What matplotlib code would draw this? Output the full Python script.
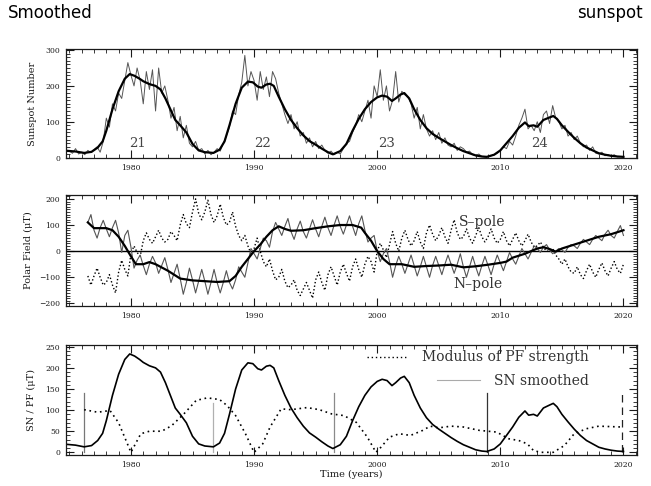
import numpy as np
import matplotlib.pyplot as plt
from matplotlib.ticker import MultipleLocator
from matplotlib.lines import Line2D

# HEADER TEXT
header_left = "Smoothed"
header_right = "sunspot"

# PANEL 1 - monthly-ish sunspot number (quarterly samples, 1974.75 .. 2020.0)
sn_raw_t0 = 1974.75
sn_raw = [20,
          18, 12, 25, 10,   15, 8, 20, 14,    22, 30, 15, 45,    110, 85, 150, 130,
          180, 165, 215, 265, 230, 200, 250, 215, 150, 240, 190, 245, 130, 250, 180, 200,
          160, 110, 140, 75,  115, 55, 90, 40,  30, 45, 20, 25,    10, 20, 8, 15,
          25, 18, 40, 60,     85, 130, 120, 175, 210, 285, 200, 240, 215, 160, 240, 190,
          225, 170, 240, 220, 180, 150, 120, 95, 120, 80, 100, 60,  70, 40, 55, 30,
          45, 25, 35, 20,     12, 18, 8, 15,    10, 25, 40, 45,    70, 90, 120, 100,
          130, 160, 110, 200, 170, 245, 160, 200, 130, 160, 240, 155, 185, 175, 170, 150,
          110, 140, 80, 120,  80, 60, 75, 50,   70, 40, 55, 35,    30, 40, 20, 30,
          25, 15, 18, 8,      5, 10, 3, 2,      2, 5, 8, 12,       20, 30, 25, 45,
          35, 60, 90, 110,    135, 80, 90, 75,  100, 70, 120, 130, 95, 145, 110, 100,
          80, 90, 60, 70,     50, 60, 40, 30,   35, 20, 30, 12,    10, 15, 5, 8,
          4, 8, 2, 3,         2]

# smoothed sunspot number (panel 1 thick line and panel 3 solid line)
sn_smooth_t = [1974.75, 1975.5, 1976.2, 1976.8, 1977.3, 1977.7, 1978.0, 1978.5, 1979.0,
               1979.5, 1979.9, 1980.3, 1980.7, 1981.0, 1981.5, 1982.0, 1982.4, 1982.8,
               1983.2, 1983.6, 1984.0, 1984.5, 1985.0, 1985.5, 1986.0, 1986.7, 1987.2,
               1987.6, 1988.0, 1988.5, 1989.0, 1989.5, 1989.9, 1990.3, 1990.6, 1991.0,
               1991.3, 1991.6, 1992.0, 1992.5, 1993.0, 1993.5, 1994.0, 1994.5, 1995.0,
               1995.5, 1996.0, 1996.4, 1997.0, 1997.5, 1998.0, 1998.5, 1999.0, 1999.5,
               2000.0, 2000.4, 2000.8, 2001.2, 2001.5, 2001.9, 2002.2, 2002.6, 2003.0,
               2003.5, 2004.0, 2004.5, 2005.0, 2005.5, 2006.0, 2006.5, 2007.0, 2007.5,
               2008.0, 2008.5, 2008.9, 2009.5, 2010.0, 2010.5, 2011.0, 2011.5, 2012.0,
               2012.3, 2012.7, 2013.0, 2013.5, 2014.0, 2014.3, 2014.6, 2015.0, 2015.5,
               2016.0, 2016.5, 2017.0, 2017.5, 2018.0, 2018.5, 2019.0, 2019.5, 2020.0]
sn_smooth = [19, 17, 13, 16, 28, 45, 75, 135, 185,
             220, 233, 228, 220, 213, 205, 200, 190, 165,
             135, 105, 90, 70, 38, 20, 15, 13, 22,
             45, 90, 150, 195, 212, 210, 198, 195, 204,
             206, 200, 170, 135, 105, 82, 62, 46, 36,
             25, 15, 9, 18, 38, 75, 108, 135, 155,
             168, 173, 170, 158, 165, 176, 180, 165, 135,
             105, 82, 66, 55, 45, 35, 26, 18, 12,
             6, 3, 2, 8, 20, 40, 60, 83, 98,
             88, 90, 86, 105, 112, 116, 108, 90, 72,
             55, 40, 28, 20, 12, 8, 5, 3, 2]
cycle_labels = ["21", "22", "23", "24"]
cycle_x = [1980.5, 1990.7, 2000.8, 2013.2]
cycle_y = [38, 38, 38, 38]

# PANEL 2 - polar fields (quarterly samples, 1976.5 .. 2020.0)
pf_t0 = 1976.5
n_raw = [110, 140,
         80, 50, 90, 118,      85, 55, 90, 118,      70, -5, 60, 80,
         15, -65, -35, -15,    -55, -90, -50, -20,   -45, -85, -55, -25,
         -70, -120, -85, -50,  -105, -165, -120, -65, -110, -160, -115, -70,
         -115, -165, -120, -70, -120, -160, -120, -75, -120, -145, -110, -60,
         -80, -100, -45, 10,   -10, -30, 10, 50,     40, 15, 75, 110,
         85, 60, 95, 125,      75, 45, 85, 115,      75, 50, 85, 120,
         85, 55, 95, 130,      90, 60, 100, 135,     95, 65, 100, 135,
         95, 60, 105, 135,     80, 35, 50, 60,       0, -40, -10, 10,
         -40, -100, -55, -20,  -50, -85, -50, -15,   -55, -95, -60, -20,
         -60, -100, -55, -20,  -55, -90, -50, -15,   -50, -85, -50, -10,
         -60, -100, -60, -20,  -60, -95, -55, -20,   -55, -90, -50, -15,
         -45, -75, -40, -5,    -30, -50, -20, 10,    -10, -30, -5, 20,
         10, -5, 15, 25,       5, -10, 0, 10,        5, -5, 15, 25,
         20, 10, 30, 45,       35, 25, 45, 60,       50, 40, 65, 80,
         60, 50, 75, 98,       60]
s_raw = [-95, -130,
         -95, -65, -100, -130,  -120, -90, -130, -160, -80, -35, -70, -95,
         -10, 20, -5, -20,      40, 70, 45, 30,       55, 80, 50, 35,
         45, 75, 60, 40,        100, 140, 105, 90,    150, 200, 145, 120,
         150, 195, 140, 110,    135, 180, 130, 100,   110, 150, 95, 60,
         40, 60, 20, -10,       10, 50, 0, -40,       -60, -30, -75, -110,
         -100, -70, -115, -140, -130, -110, -150, -170, -145, -120, -150, -180,
         -110, -80, -120, -150, -90, -60, -95, -130,  -80, -50, -85, -115,
         -60, -30, -70, -100,   -50, -20, -40, -80,   0, 30, 5, -25,
         25, 75, 30, 0,         50, 80, 45, 20,       40, 75, 35, 10,
         70, 100, 65, 40,       60, 90, 55, 30,       80, 120, 70, 45,
         55, 85, 50, 30,        60, 90, 55, 35,       55, 85, 50, 30,
         45, 75, 40, 20,        45, 70, 40, 20,       40, 65, 35, 15,
         20, 35, 15, 0,         0, 10, -15, -30,      -50, -30, -60, -80,
         -85, -60, -90, -105,   -75, -50, -80, -100,  -70, -45, -75, -95,
         -65, -40, -70, -85,    -50]
n_smooth_t = [1976.5, 1977.0, 1978.0, 1978.5, 1979.0, 1979.5, 1980.0, 1980.4, 1981.0,
              1981.5, 1982.0, 1983.0, 1984.0, 1985.0, 1986.0, 1987.0, 1988.0, 1988.5,
              1989.0, 1989.5, 1990.0, 1990.5, 1991.0, 1991.5, 1992.0, 1992.5, 1993.0,
              1994.0, 1995.0, 1996.0, 1997.0, 1998.0, 1998.7, 1999.0, 1999.5, 2000.0,
              2000.5, 2001.0, 2001.5, 2002.0, 2003.0, 2004.0, 2005.0, 2006.0, 2007.0,
              2008.0, 2009.0, 2010.0, 2010.5, 2011.0, 2012.0, 2013.0, 2013.5, 2014.0,
              2014.5, 2015.0, 2016.0, 2017.0, 2018.0, 2019.0, 2020.0]
n_smooth = [110, 88, 88, 80, 55, 20, -20, -50, -50,
            -42, -50, -75, -105, -112, -115, -118, -115, -95,
            -60, -30, 0, 25, 55, 80, 95, 85, 78,
            80, 88, 95, 100, 100, 90, 70, 40, 0,
            -30, -50, -50, -50, -60, -57, -55, -52, -62,
            -58, -52, -45, -40, -25, -10, 10, 15, 8,
            -2, 10, 25, 40, 55, 65, 80]

# PANEL 3 - modulus of polar field strength
pf_mod_t = [1976.2, 1977.3, 1978.3, 1979.0, 1979.5, 1980.0, 1980.8, 1981.5, 1982.5,
            1983.3, 1984.3, 1985.3, 1986.2, 1987.2, 1987.8, 1988.5, 1989.3, 1990.0,
            1990.7, 1991.3, 1992.2, 1993.0, 1994.3, 1995.3, 1996.3, 1997.3, 1998.3,
            1999.2, 1999.9, 2000.3, 2001.0, 2001.8, 2002.7, 2003.7, 2004.3, 2005.0,
            2006.0, 2007.0, 2008.3, 2009.7, 2010.7, 2011.5, 2012.2, 2012.7, 2013.3,
            2014.3, 2015.2, 2016.0, 2017.0, 2018.0, 2019.8]
pf_mod = [101, 95, 99, 70, 35, 0, 44, 50, 50,
          63, 91, 123, 129, 125, 111, 87, 44, 0,
          20, 60, 103, 101, 106, 101, 91, 87, 71,
          36, 0, 12, 36, 44, 40, 52, 62, 58,
          62, 60, 52, 48, 32, 28, 20, 4, 0,
          0, 16, 44, 56, 62, 60]
minima_t = [1976.2, 1986.7, 1996.5, 2008.9, 2019.9]
minima_h = [140, 118, 140, 140, 140]
minima_color = ["#777777", "#b0b0b0", "#8a8a8a", "#333333", "#222222"]
minima_style = ["-", "-", "-", "-", (0, (6, 4))]

XLIM = (1974.7, 2021.1)
SERIF = "DejaVu Serif"
INK = "#1a1a1a"
LABEL_INK = "#333333"

plt.rcParams["font.family"] = SERIF


def style_axis(ax, ylim, yminor):
    ax.set_xlim(*XLIM)
    ax.set_ylim(*ylim)
    ax.xaxis.set_major_locator(MultipleLocator(10))
    ax.xaxis.set_minor_locator(MultipleLocator(1))
    ax.yaxis.set_minor_locator(MultipleLocator(yminor))
    ax.tick_params(which="both", direction="in", top=True, right=True,
                   labelsize=5.5, colors=INK, pad=4)
    ax.tick_params(which="major", length=6, width=0.8)
    ax.tick_params(which="minor", length=3, width=0.6)
    for s in ax.spines.values():
        s.set_linewidth(0.9)
        s.set_color(INK)


fig = plt.figure(figsize=(6.51, 4.86), dpi=100)

fig.text(8 / 651, 1 - 4 / 486, header_left, ha="left", va="top",
         fontsize=12, family="DejaVu Sans", color="black")
fig.text(643 / 651, 1 - 4 / 486, header_right, ha="right", va="top",
         fontsize=12, family="DejaVu Sans", color="black")

# PANEL 1
ax1 = fig.add_axes([0.1009, 0.6743, 0.8776, 0.2249])
t_raw = sn_raw_t0 + 0.25 * np.arange(len(sn_raw))
ax1.plot(t_raw, sn_raw, color="#555555", lw=0.7)
ax1.plot(sn_smooth_t, sn_smooth, color="black", lw=1.6)
for lab, x, y in zip(cycle_labels, cycle_x, cycle_y):
    ax1.text(x, y, lab, ha="center", va="center", fontsize=9.5, color="#444444")
style_axis(ax1, (-2, 303), 10)
ax1.set_yticks([0, 100, 200, 300])
ax1.set_ylabel("Sunspot Number", fontsize=7, color=INK)
ax1.yaxis.set_label_coords(-0.051, 0.5)

# PANEL 2
ax2 = fig.add_axes([0.1009, 0.3704, 0.8776, 0.2284])
t_pf = pf_t0 + 0.25 * np.arange(len(n_raw))
ax2.axhline(0, color="black", lw=1.0)
ax2.plot(t_pf, s_raw, color="black", lw=1.0, ls=(0, (1, 1.6)))
ax2.plot(t_pf, n_raw, color="#555555", lw=0.8)
ax2.plot(n_smooth_t, n_smooth, color="black", lw=1.6)
ax2.text(2008.5, 110, "S\u2013pole", ha="center", va="center", fontsize=10, color=LABEL_INK)
ax2.text(2008.2, -126, "N\u2013pole", ha="center", va="center", fontsize=10, color=LABEL_INK)
style_axis(ax2, (-210, 215), 10)
ax2.set_yticks([-200, -100, 0, 100, 200])
ax2.set_ylabel("Polar Field (\u03bcT)", fontsize=7, color=INK)
ax2.yaxis.set_label_coords(-0.058, 0.5)

# PANEL 3
ax3 = fig.add_axes([0.1009, 0.0632, 0.8776, 0.2276])
for x, h, c, ls in zip(minima_t, minima_h, minima_color, minima_style):
    ax3.plot([x, x], [0, h], color=c, lw=0.9, ls=ls)
ax3.plot(sn_smooth_t, sn_smooth, color="black", lw=1.2)
ax3.plot(pf_mod_t, pf_mod, color="black", lw=1.2, ls=(0, (1, 2.2)))
style_axis(ax3, (-7, 255), 10)
ax3.set_yticks([0, 50, 100, 150, 200, 250])
ax3.set_ylabel("SN / PF (\u03bcT)", fontsize=7, color=INK)
ax3.yaxis.set_label_coords(-0.052, 0.5)
ax3.set_xlabel("Time (years)", fontsize=7, color=INK, labelpad=1)

leg1 = ax3.legend(handles=[Line2D([], [], color="black", lw=1.0, ls=(0, (1, 2)))],
                  labels=["Modulus of PF strength"], loc="center right",
                  bbox_to_anchor=(0.916, 0.885), frameon=False, handlelength=2.9,
                  handletextpad=1.1, borderpad=0, borderaxespad=0,
                  prop={"family": SERIF, "size": 10})
for t in leg1.get_texts():
    t.set_color(LABEL_INK)
ax3.add_artist(leg1)
leg2 = ax3.legend(handles=[Line2D([], [], color="#aaaaaa", lw=0.8)],
                  labels=["SN smoothed"], loc="center right",
                  bbox_to_anchor=(0.916, 0.672), frameon=False, handlelength=3.1,
                  handletextpad=1.0, borderpad=0, borderaxespad=0,
                  prop={"family": SERIF, "size": 10})
for t in leg2.get_texts():
    t.set_color(LABEL_INK)

fig.savefig("out.png", dpi=100)
